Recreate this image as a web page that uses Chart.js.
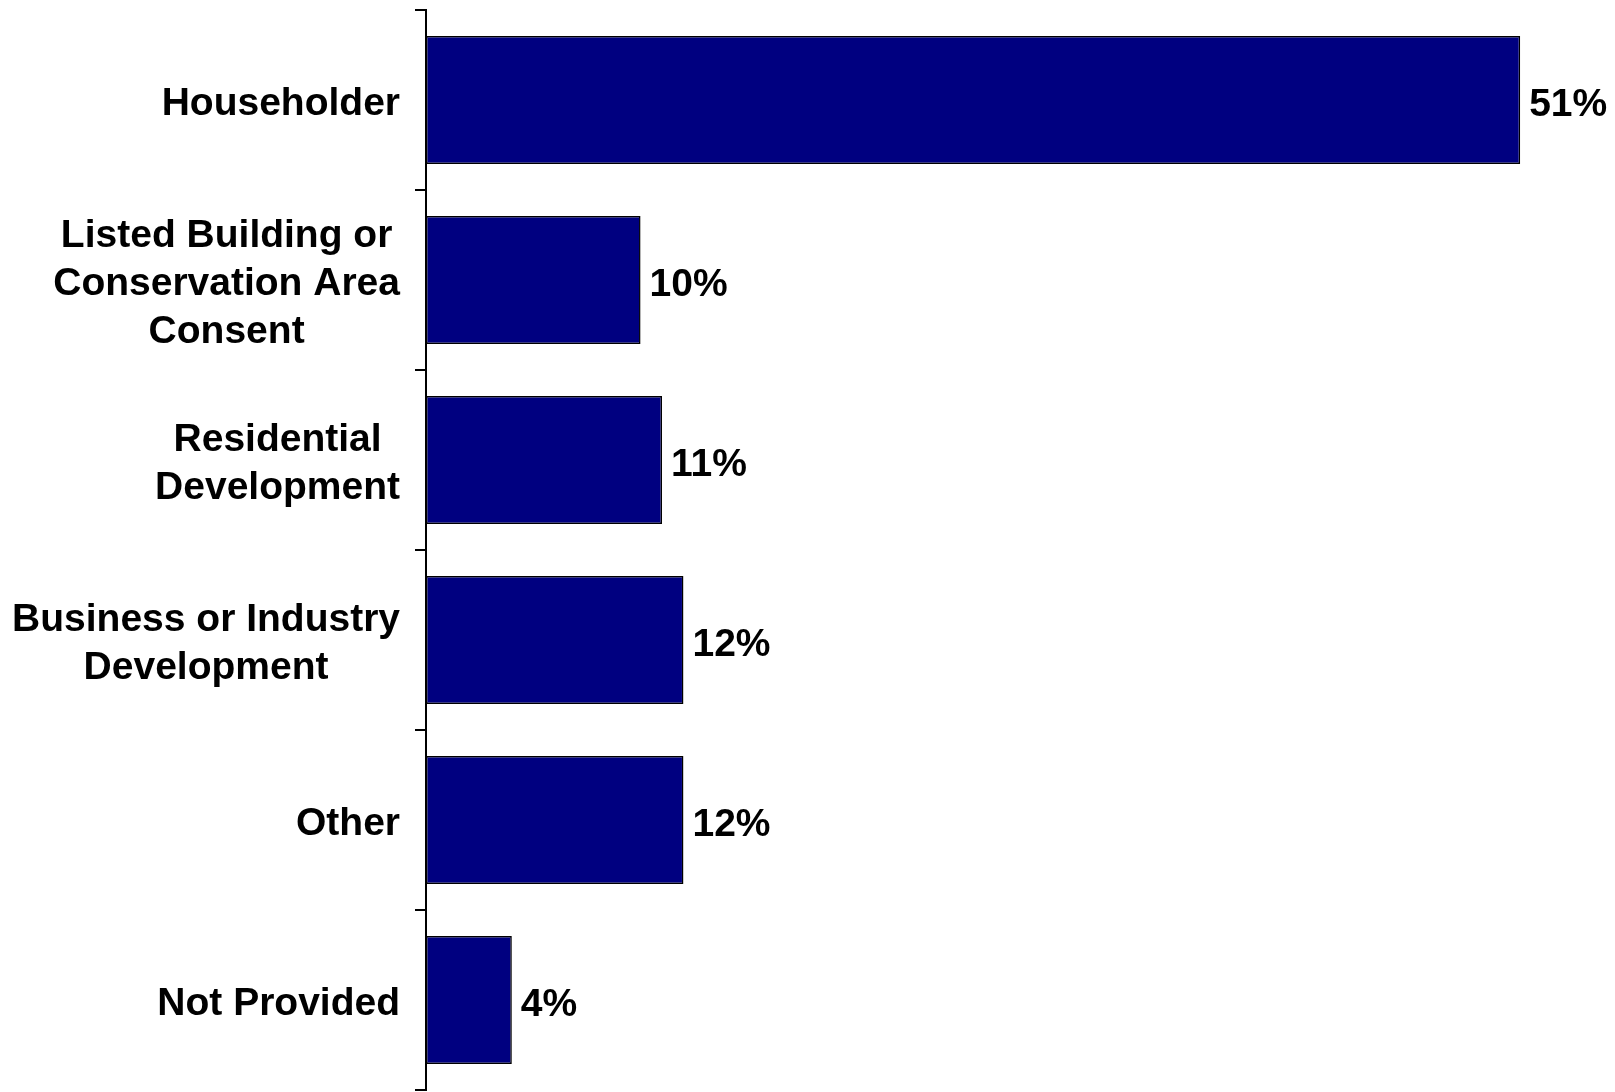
<!DOCTYPE html>
<html>
<head>
<meta charset="utf-8">
<script src="https://cdn.jsdelivr.net/npm/chart.js@4.4.0/dist/chart.umd.min.js"></script>
<style>
  html, body { margin: 0; padding: 0; background: #fff; }
  #wrap { width: 1615px; height: 1092px; position: relative; }
</style>
</head>
<body>
<div id="wrap"><canvas id="appTypes"></canvas></div>
<script>
// application types, one entry per bar (lines split as they are printed)
var categories = [
  ["Householder"],
  ["Listed Building or", "Conservation Area", "Consent"],
  ["Residential", "Development"],
  ["Business or Industry", "Development"],
  ["Other"],
  ["Not Provided"]
];
var shares = [51, 10, 11, 12, 12, 4];

var FONT = "bold 39px 'Liberation Sans', Arial, sans-serif";

// category names: each block is right aligned to the axis, its lines centred
var catLabels = {
  id: 'catLabels',
  afterDraw: function(chart) {
    var ctx = chart.ctx, y = chart.scales.y;
    var lineH = 48;
    ctx.save();
    ctx.font = FONT;
    ctx.fillStyle = '#000';
    ctx.textBaseline = 'middle';
    ctx.textAlign = 'center';
    categories.forEach(function(lines, i) {
      var w = 0;
      lines.forEach(function(l) { w = Math.max(w, ctx.measureText(l).width); });
      var cx = 400 - w / 2;
      var cy = y.getPixelForTick(i) + 4;
      var top = cy - (lines.length - 1) * lineH / 2;
      lines.forEach(function(l, k) { ctx.fillText(l, cx, top + k * lineH); });
    });
    ctx.restore();
  }
};

// value labels to the right of each bar
var valueLabels = {
  id: 'valueLabels',
  afterDatasetsDraw: function(chart) {
    var ctx = chart.ctx;
    var meta = chart.getDatasetMeta(0);
    ctx.save();
    ctx.font = FONT;
    ctx.fillStyle = '#000';
    ctx.textBaseline = 'middle';
    ctx.textAlign = 'left';
    meta.data.forEach(function(bar, i) {
      ctx.fillText(shares[i] + '%', bar.x + 9, bar.y + 5);
    });
    ctx.restore();
  }
};

var ctx = document.getElementById("appTypes");
var chart = new Chart(ctx, {
  type: 'bar',
  data: {
    labels: categories,
    datasets: [{
      data: shares,
      backgroundColor: '#000080',
      borderColor: '#000000',
      borderWidth: 1.5,
      borderSkipped: false,
      barPercentage: 0.71,
      categoryPercentage: 1
    }]
  },
  options: {
    indexAxis: 'y',
    responsive: true,
    maintainAspectRatio: false,
    animation: false,
    layout: { padding: { top: 10, bottom: 2, left: 0, right: 9 } },
    plugins: {
      legend: { display: false },
      tooltip: { enabled: false }
    },
    scales: {
      x: {
        display: false,
        min: 0,
        max: 55
      },
      y: {
        offset: true,
        afterFit: function(scale) { scale.width = 426; },
        border: { display: true, color: '#000', width: 2 },
        grid: {
          offset: true,
          drawOnChartArea: false,
          drawTicks: true,
          tickLength: 11,
          color: '#000',
          lineWidth: 2
        },
        ticks: { display: false }
      }
    }
  },
  plugins: [catLabels, valueLabels]
});
</script>
</body>
</html>
